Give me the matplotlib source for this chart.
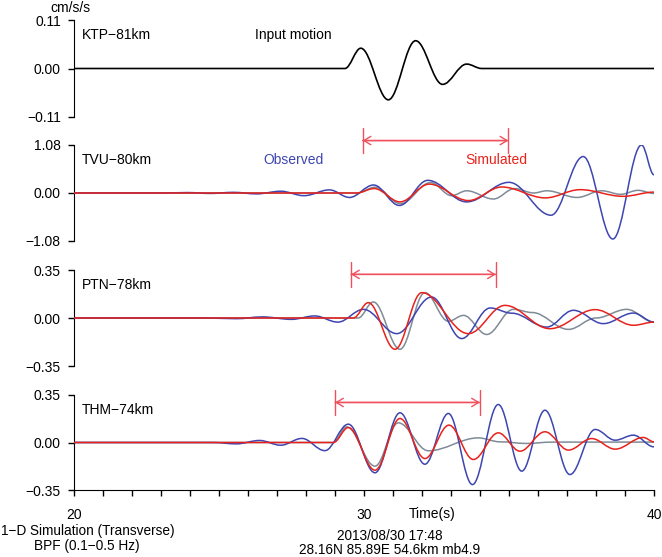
import matplotlib
matplotlib.use("Agg")
import matplotlib.pyplot as plt
from matplotlib.path import Path
from matplotlib.patches import PathPatch
from matplotlib.ticker import MultipleLocator

plt.rcParams['font.family'] = ['Liberation Sans', 'DejaVu Sans']
plt.rcParams['font.size'] = 10

# key points (peaks, troughs, onsets): time (s), amplitude (cm/s/s)
ktp_t = [20, 29.34, 29.89, 30.84, 31.78, 32.71, 33.54, 34.06, 40]
ktp_a = [0, 0, 0.046, -0.071, 0.063, -0.036, 0.010, 0, 0]

tvu_obs_t = [20, 23.1, 23.9, 24.7, 25.5, 26.3, 27.13, 27.93, 28.81, 29.5, 30.33, 31.22,
             32.2, 33.54, 35.0, 36.45, 37.56, 38.58, 39.57, 40]
tvu_obs_a = [0, 0, 0.01, -0.01, 0.015, -0.02, 0.04, -0.06, 0.07, -0.1, 0.18, -0.28,
             0.285, -0.2, 0.24, -0.5, 0.82, -1.035, 1.08, 0.41]
tvu_sim_t = [20, 29.75, 30.35, 31.24, 32.25, 33.6, 34.75, 36.25, 37.45, 38.94, 40]
tvu_sim_a = [0, 0, 0.10, -0.2, 0.2, -0.17, 0.135, -0.11, 0.075, -0.075, 0.02]
tvu_gry_t = [20, 29.75, 30.38, 31.26, 32.3, 33.02, 33.54, 34.46, 35.2, 35.85, 36.3,
             37.35, 38.2, 38.85, 39.45, 40]
tvu_gry_a = [0, 0, 0.13, -0.24, 0.235, -0.06, 0.05, -0.135, 0.1, 0.0, 0.05,
             -0.1, 0.05, -0.03, 0.06, -0.01]

ptn_obs_t = [20, 24.5, 25.6, 26.5, 27.5, 28.3, 29.1, 29.98, 31.13, 32.33, 33.37, 34.35,
             35.1, 36.3, 37.22, 38.25, 39.29, 40]
ptn_obs_a = [0, 0, -0.005, 0.008, -0.01, 0.015, -0.03, 0.063, -0.114, 0.153, -0.15, 0.073,
             0.035, -0.066, 0.056, -0.041, 0.036, -0.03]
ptn_sim_t = [20, 29.63, 30.15, 31.07, 31.99, 33.6, 34.86, 36.41, 37.97, 39.29, 40]
ptn_sim_a = [0, 0, 0.112, -0.228, 0.185, -0.114, 0.092, -0.078, 0.061, -0.053, -0.03]
ptn_gry_t = [20, 29.8, 30.32, 31.24, 32.1, 32.91, 33.43, 34.23, 35.15, 35.8, 37.05,
             38.0, 39.06, 40]
ptn_gry_a = [0, 0, 0.117, -0.228, 0.185, -0.024, 0.019, -0.12, 0.063, 0.04, -0.083,
             0.0, 0.063, -0.03]

thm_obs_t = [20, 24.8, 25.6, 26.4, 27.13, 27.86, 28.65, 29.46, 30.38, 31.24, 32.1, 32.91,
             33.74, 34.63, 35.44, 36.24, 37.1, 37.97, 38.66, 39.29, 40]
thm_obs_a = [0, 0, -0.01, 0.015, -0.02, 0.03, -0.06, 0.135, -0.223, 0.219, -0.16, 0.214,
             -0.31, 0.28, -0.211, 0.238, -0.236, 0.096, 0.017, 0.054, -0.032]
thm_sim_t = [20, 28.94, 29.46, 30.38, 31.24, 32.1, 32.93, 33.77, 34.63, 35.38, 36.24,
             37.05, 37.85, 38.66, 39.63, 40]
thm_sim_a = [0, 0, 0.11, -0.204, 0.177, -0.118, 0.128, -0.125, 0.071, -0.064, 0.079,
             -0.056, 0.029, -0.049, 0.037, 0.005]
thm_gry_t = [20, 28.94, 29.4, 30.38, 31.18, 32.22, 33.94, 34.69, 35.6, 36.5, 40]
thm_gry_a = [0, 0, 0.115, -0.174, 0.145, -0.061, 0.034, 0.005, -0.007, 0.003, 0.003]

stations = ['KTP\u221281km', 'TVU\u221280km', 'PTN\u221278km', 'THM\u221274km']
y_max = [0.11, 1.08, 0.35, 0.35]
y_ticklabels = [['\u22120.11', '0.00', '0.11'], ['\u22121.08', '0.00', '1.08'],
                ['\u22120.35', '0.00', '0.35'], ['\u22120.35', '0.00', '0.35']]
# fitting windows (start, end, level) drawn as red double arrows
windows = [None, (29.95, 34.98, 1.18), (29.55, 34.55, 0.318), (29.0, 34.0, 0.295)]

BLUE = '#3d45b0'
RED = '#e8221b'
GRAY = '#7f8b97'
PINK = '#f0505e'


def wave_path(ts, amps):
    # smooth curve through the key points, flat tangent at each point
    k = 0.3634
    verts = [(ts[0], amps[0])]
    codes = [Path.MOVETO]
    for i in range(1, len(ts)):
        d = (ts[i] - ts[i - 1]) * k
        verts += [(ts[i - 1] + d, amps[i - 1]), (ts[i] - d, amps[i]), (ts[i], amps[i])]
        codes += [Path.CURVE4] * 3
    return Path(verts, codes)


def add_trace(ax, ts, amps, color, lw=1.1, z=2):
    ax.add_patch(PathPatch(wave_path(ts, amps), fill=False, edgecolor=color,
                           lw=lw, zorder=z, capstyle='butt'))


W, H = 662, 557
fig = plt.figure(figsize=(W / 100, H / 100), dpi=100)
tops = [20, 145, 270, 395]
bots = [117, 241, 366, 490]
axes = []
for i in range(4):
    ax = fig.add_axes([74 / W, 1 - bots[i] / H, 580 / W, (bots[i] - tops[i]) / H])
    ax.set_xlim(20, 40)
    ax.set_ylim(-y_max[i], y_max[i])
    for s in ['top', 'right']:
        ax.spines[s].set_visible(False)
    ax.set_yticks([-y_max[i], 0, y_max[i]])
    ax.set_yticklabels(y_ticklabels[i])
    ax.tick_params(axis='y', direction='out', length=4, width=1, pad=5.5, labelsize=10)
    if i < 3:
        ax.spines['bottom'].set_visible(False)
        ax.set_xticks([])
    ax.patch.set_alpha(0)
    ax.text((82 - 74) / 580, 0.845, stations[i], transform=ax.transAxes,
            va='center', ha='left', fontsize=10)
    axes.append(ax)

ax1, ax2, ax3, ax4 = axes

add_trace(ax1, ktp_t, ktp_a, 'black', lw=1.2)
ax1.text((255 - 74) / 580, 0.845, 'Input motion', transform=ax1.transAxes, va='center')

for ax, g, o, s in [(ax2, (tvu_gry_t, tvu_gry_a), (tvu_obs_t, tvu_obs_a), (tvu_sim_t, tvu_sim_a)),
                    (ax3, (ptn_gry_t, ptn_gry_a), (ptn_obs_t, ptn_obs_a), (ptn_sim_t, ptn_sim_a)),
                    (ax4, (thm_gry_t, thm_gry_a), (thm_obs_t, thm_obs_a), (thm_sim_t, thm_sim_a))]:
    add_trace(ax, g[0], g[1], GRAY, z=2)
    add_trace(ax, o[0], o[1], BLUE, z=3)
    add_trace(ax, s[0], s[1], RED, z=4)

ax2.text((263 - 74) / 580, 0.844, 'Observed', color=BLUE, transform=ax2.transAxes, va='center')
ax2.text((465 - 74) / 580, 0.844, 'Simulated', color=RED, transform=ax2.transAxes, va='center')

for ax, win in zip(axes, windows):
    if win is None:
        continue
    t0, t1, lev = win
    ax.annotate('', xy=(t1, lev), xytext=(t0, lev), annotation_clip=False,
                arrowprops=dict(arrowstyle='<->,head_length=0.5,head_width=0.3', color=PINK,
                                lw=1.0, shrinkA=0, shrinkB=0, mutation_scale=10))
    ax.annotate('', xy=(t1, lev), xytext=(t0, lev), annotation_clip=False,
                arrowprops=dict(arrowstyle='|-|,widthA=0.45,widthB=0.45', color=PINK,
                                lw=1.0, shrinkA=0, shrinkB=0, mutation_scale=20))

ax4.set_xticks([20, 30, 40])
ax4.xaxis.set_minor_locator(MultipleLocator(1))
ax4.tick_params(axis='x', which='both', direction='out', length=4, width=1, pad=9, labelsize=10)

fig.text(70 / W, 1 - 8 / H, 'cm/s/s', ha='center', va='center', fontsize=10)
fig.text(432 / W, 1 - 514 / H, 'Time(s)', ha='center', va='center', fontsize=10)
fig.text(1 / W, 1 - 531 / H, '1\u2212D Simulation (Transverse)', ha='left', va='center', fontsize=9.8)
fig.text(87 / W, 1 - 546 / H, 'BPF (0.1\u22120.5 Hz)', ha='center', va='center', fontsize=9.8)
fig.text(390 / W, 1 - 535.5 / H, '2013/08/30 17:48', ha='center', va='center', fontsize=9.8)
fig.text(390 / W, 1 - 549.5 / H, '28.16N 85.89E 54.6km mb4.9', ha='center', va='center', fontsize=9.8)

fig.savefig('out.png', dpi=100)
